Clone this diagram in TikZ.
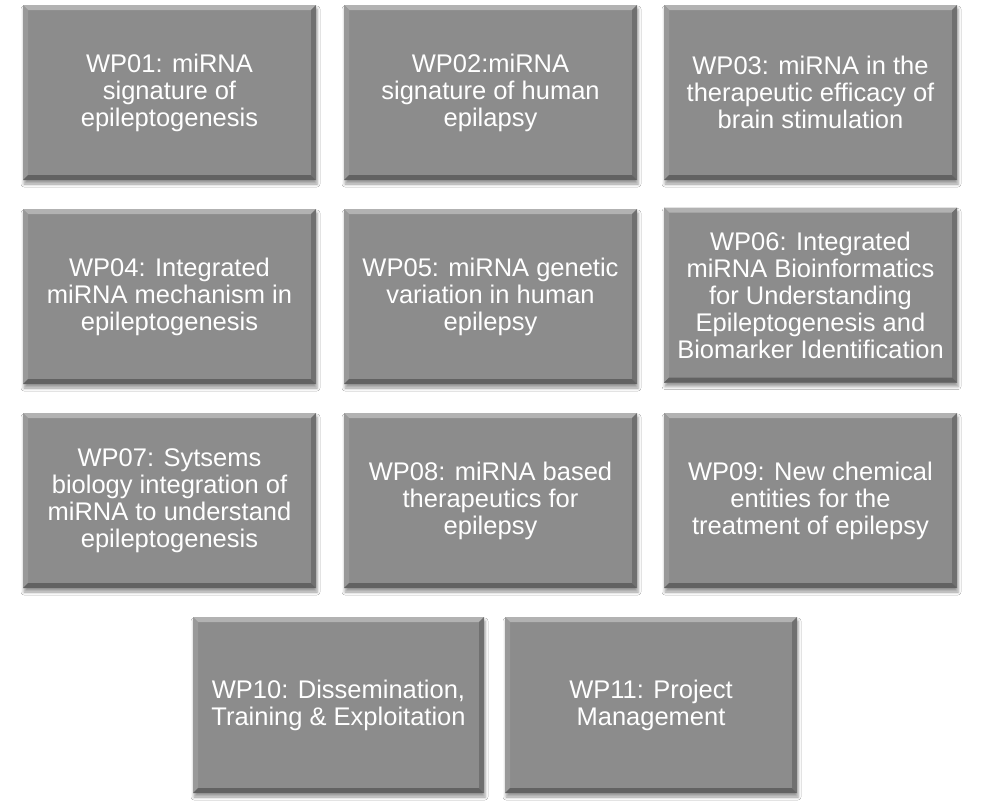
\documentclass[tikz,border=0pt]{standalone}
\usepackage{fontspec}
\setmainfont{Liberation Sans}
\usetikzlibrary{shadows.blur}
\definecolor{boxgray}{HTML}{8C8C8C}
\definecolor{bevtop}{HTML}{B2B2B2}
\definecolor{bevleft}{HTML}{999999}
\definecolor{bevright}{HTML}{707070}
\definecolor{bevbottom}{HTML}{626262}
\begin{document}
\begin{tikzpicture}[x=1pt,y=-1pt,
  wpbox/.style={rectangle, minimum width=293pt, minimum height=175pt, inner sep=0pt,
    fill=boxgray, text=white, align=center,
    font=\fontsize{25.5pt}{27pt}\selectfont,
    blur shadow={shadow xshift=1pt, shadow yshift=-4pt, shadow blur radius=3pt, shadow opacity=40},
    path picture={
      \fill[bevtop] (path picture bounding box.north west) -- (path picture bounding box.north east)
        -- ([xshift=-5pt,yshift=-5pt]path picture bounding box.north east)
        -- ([xshift=5pt,yshift=-5pt]path picture bounding box.north west) -- cycle;
      \fill[bevleft] (path picture bounding box.north west) -- ([xshift=5pt,yshift=-5pt]path picture bounding box.north west)
        -- ([xshift=5pt,yshift=5pt]path picture bounding box.south west)
        -- (path picture bounding box.south west) -- cycle;
      \fill[bevright] (path picture bounding box.north east) -- ([xshift=-5pt,yshift=-5pt]path picture bounding box.north east)
        -- ([xshift=-5pt,yshift=5pt]path picture bounding box.south east)
        -- (path picture bounding box.south east) -- cycle;
      \fill[bevbottom] (path picture bounding box.south west) -- (path picture bounding box.south east)
        -- ([xshift=-5pt,yshift=5pt]path picture bounding box.south east)
        -- ([xshift=5pt,yshift=5pt]path picture bounding box.south west) -- cycle;
    }}]
\useasboundingbox[fill=white] (0,0) rectangle (984,804);
\node[wpbox] (wp01) at (169.5,92.5) {WP01: miRNA\\signature of\\epileptogenesis};
\node[wpbox] (wp02) at (490.5,92.5) {WP02:miRNA\\signature of human\\epilapsy};
\node[wpbox] (wp03) at (810.5,92.5) {WP03: miRNA in the\\therapeutic efficacy of\\brain stimulation};
\node[wpbox] (wp04) at (169.5,296.5) {WP04: Integrated\\miRNA mechanism in\\epileptogenesis};
\node[wpbox] (wp05) at (490.5,296.5) {WP05: miRNA genetic\\variation in human\\epilepsy};
\node[wpbox] (wp06) at (810.5,295) {WP06: Integrated\\miRNA Bioinformatics\\for Understanding\\Epileptogenesis and\\Biomarker Identification};
\node[wpbox] (wp07) at (169.5,500.5) {WP07: Sytsems\\biology integration of\\miRNA to understand\\epileptogenesis};
\node[wpbox] (wp08) at (490.5,500.5) {WP08: miRNA based\\therapeutics for\\epilepsy};
\node[wpbox] (wp09) at (810.5,500.5) {WP09: New chemical\\entities for the\\treatment of epilepsy};
\node[wpbox, minimum width=291pt, minimum height=176pt] (wp10) at (338.5,705) {WP10: Dissemination,\\Training \& Exploitation};
\node[wpbox, minimum width=292pt, minimum height=176pt] (wp11) at (651,705) {WP11: Project\\Management};
\end{tikzpicture}
\end{document}
